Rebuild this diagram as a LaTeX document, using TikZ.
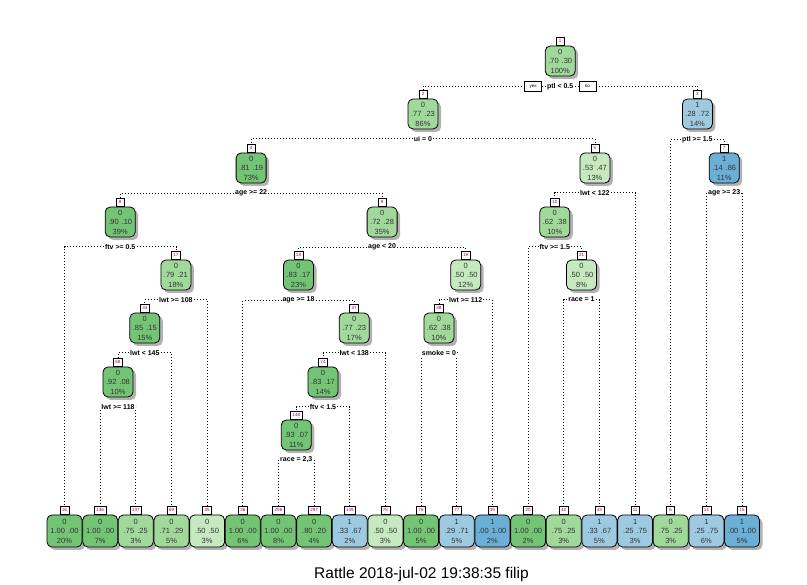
\documentclass[tikz,border=0pt]{standalone}
\usepackage{fontspec}
\setmainfont{Liberation Sans}
\usetikzlibrary{positioning,shadows,backgrounds}

\definecolor{grDark}{HTML}{74C476}
\definecolor{grMid}{HTML}{A1D99B}
\definecolor{grLight}{HTML}{C7E9C0}
\definecolor{blLight}{HTML}{9ECAE1}
\definecolor{blDark}{HTML}{6BAED6}

\newcommand{\probs}[2]{#1\hspace{3pt}#2}

\begin{document}
\begin{tikzpicture}[x=1pt, y=-1pt,
    box/.style={draw, rounded corners=5pt, line width=0.8pt, minimum width=30pt,
                minimum height=30pt, inner sep=0pt, align=center, text=black!80,
                font=\fontsize{7.5}{9.5}\selectfont,
                drop shadow={shadow xshift=3pt, shadow yshift=-3pt, fill=black, opacity=0.3}},
    leafbox/.style={box, minimum width=35pt, minimum height=32pt},
    tagbox/.style={draw, fill=white, line width=0.5pt, inner xsep=2pt, inner ysep=0pt,
                   minimum width=8pt, minimum height=8pt, text=violet!80!red,
                   font=\fontsize{4.5}{4.5}\selectfont},
    splitlbl/.style={fill=white, inner sep=1pt, font=\bfseries\fontsize{7}{8}\selectfont},
    yesno/.style={draw, fill=white, line width=0.5pt, minimum width=17pt, minimum height=10pt,
                  inner sep=0pt, font=\fontsize{4.5}{4.5}\selectfont},
    conn/.style={line width=0.8pt, dash pattern=on 0.8pt off 2.2pt}]

    \useasboundingbox (0,0) rectangle (807,585);

    % internal nodes
    \node[box, fill=grMid]   (n1)   at (560.2,61)  {0\\\probs{.70}{.30}\\100\%};
    \node[box, fill=grMid]   (n2)   at (423.0,114) {0\\\probs{.77}{.23}\\86\%};
    \node[box, fill=blLight] (n3)   at (697.4,114) {1\\\probs{.28}{.72}\\14\%};
    \node[box, fill=grDark]  (n4)   at (251.1,168) {0\\\probs{.81}{.19}\\73\%};
    \node[box, fill=grLight] (n5)   at (594.9,168) {0\\\probs{.53}{.47}\\13\%};
    \node[box, fill=blDark]  (n7)   at (724.2,168) {1\\\probs{.14}{.86}\\11\%};
    \node[box, fill=grDark]  (n8)   at (120.2,222) {0\\\probs{.90}{.10}\\39\%};
    \node[box, fill=grMid]   (n9)   at (382.1,222) {0\\\probs{.72}{.28}\\35\%};
    \node[box, fill=grMid]   (n10)  at (554.8,222) {0\\\probs{.62}{.38}\\10\%};
    \node[box, fill=grMid]   (n17)  at (175.9,275) {0\\\probs{.79}{.21}\\18\%};
    \node[box, fill=grDark]  (n18)  at (298.5,275) {0\\\probs{.83}{.17}\\23\%};
    \node[box, fill=grLight] (n19)  at (465.7,275) {0\\\probs{.50}{.50}\\12\%};
    \node[box, fill=grLight] (n21)  at (581.5,275) {0\\\probs{.50}{.50}\\8\%};
    \node[box, fill=grDark]  (n34)  at (144.8,328) {0\\\probs{.85}{.15}\\15\%};
    \node[box, fill=grMid]   (n37)  at (354.2,328) {0\\\probs{.77}{.23}\\17\%};
    \node[box, fill=grMid]   (n38)  at (438.9,328) {0\\\probs{.62}{.38}\\10\%};
    \node[box, fill=grDark]  (n68)  at (118.0,382) {0\\\probs{.92}{.08}\\10\%};
    \node[box, fill=grDark]  (n74)  at (323.0,382) {0\\\probs{.83}{.17}\\14\%};
    \node[box, fill=grDark]  (n148) at (296.3,435) {0\\\probs{.93}{.07}\\11\%};

    % leaves
    \node[leafbox, fill=grDark]  (n16)  at (64.5,531)  {0\\\probs{1.00}{.00}\\20\%};
    \node[leafbox, fill=grDark]  (n136) at (100.2,531) {0\\\probs{1.00}{.00}\\7\%};
    \node[leafbox, fill=grMid]   (n137) at (135.8,531) {0\\\probs{.75}{.25}\\3\%};
    \node[leafbox, fill=grMid]   (n69)  at (171.5,531) {0\\\probs{.71}{.29}\\5\%};
    \node[leafbox, fill=grLight] (n35)  at (207.1,531) {0\\\probs{.50}{.50}\\3\%};
    \node[leafbox, fill=grDark]  (n36)  at (242.8,531) {0\\\probs{1.00}{.00}\\6\%};
    \node[leafbox, fill=grDark]  (n296) at (278.5,531) {0\\\probs{1.00}{.00}\\8\%};
    \node[leafbox, fill=grDark]  (n297) at (314.1,531) {0\\\probs{.80}{.20}\\4\%};
    \node[leafbox, fill=blLight] (n149) at (349.8,531) {1\\\probs{.33}{.67}\\2\%};
    \node[leafbox, fill=grLight] (n75)  at (385.4,531) {0\\\probs{.50}{.50}\\3\%};
    \node[leafbox, fill=grDark]  (n76)  at (421.1,531) {0\\\probs{1.00}{.00}\\5\%};
    \node[leafbox, fill=blLight] (n77)  at (456.8,531) {1\\\probs{.29}{.71}\\5\%};
    \node[leafbox, fill=blDark]  (n39)  at (492.4,531) {1\\\probs{.00}{1.00}\\2\%};
    \node[leafbox, fill=grDark]  (n20)  at (528.1,531) {0\\\probs{1.00}{.00}\\2\%};
    \node[leafbox, fill=grMid]   (n42)  at (563.7,531) {0\\\probs{.75}{.25}\\3\%};
    \node[leafbox, fill=blLight] (n43)  at (599.4,531) {1\\\probs{.33}{.67}\\5\%};
    \node[leafbox, fill=blLight] (n11)  at (635.1,531) {1\\\probs{.25}{.75}\\3\%};
    \node[leafbox, fill=grMid]   (n6)   at (670.7,531) {0\\\probs{.75}{.25}\\3\%};
    \node[leafbox, fill=blLight] (n14)  at (706.4,531) {1\\\probs{.25}{.75}\\6\%};
    \node[leafbox, fill=blDark]  (n15)  at (742.0,531) {1\\\probs{.00}{1.00}\\5\%};

    % node numbers
    \foreach \n in {1,2,3,4,5,6,7,8,9,10,11,14,15,16,17,18,19,20,21,34,35,36,37,38,39,
                    42,43,68,69,74,75,76,77,136,137,148,149,296,297}
        \node[tagbox, above=0pt of n\n] (t\n) {\n};

    % split labels
    \node[splitlbl, below=5.5pt of n1]   (s1)   {ptl < 0.5};
    \node[splitlbl, below=5.5pt of n2]   (s2)   {ui = 0};
    \node[splitlbl, below=5.5pt of n3]   (s3)   {ptl >= 1.5};
    \node[splitlbl, below=5.5pt of n4]   (s4)   {age >= 22};
    \node[splitlbl, below=5.5pt of n5]   (s5)   {lwt < 122};
    \node[splitlbl, below=5.5pt of n7]   (s7)   {age >= 23};
    \node[splitlbl, below=5.5pt of n8]   (s8)   {ftv >= 0.5};
    \node[splitlbl, below=5.5pt of n9]   (s9)   {age < 20};
    \node[splitlbl, below=5.5pt of n10]  (s10)  {ftv >= 1.5};
    \node[splitlbl, below=5.5pt of n17]  (s17)  {lwt >= 108};
    \node[splitlbl, below=5.5pt of n18]  (s18)  {age >= 18};
    \node[splitlbl, below=5.5pt of n19]  (s19)  {lwt >= 112};
    \node[splitlbl, below=5.5pt of n21]  (s21)  {race = 1};
    \node[splitlbl, below=5.5pt of n34]  (s34)  {lwt < 145};
    \node[splitlbl, below=5.5pt of n37]  (s37)  {lwt < 138};
    \node[splitlbl, below=5.5pt of n38]  (s38)  {smoke = 0};
    \node[splitlbl, below=5.5pt of n68]  (s68)  {lwt >= 118};
    \node[splitlbl, below=5.5pt of n74]  (s74)  {ftv < 1.5};
    \node[splitlbl, below=5.5pt of n148] (s148) {race = 2,3};

    \node[yesno, left=4pt of s1]  (yes) {yes};
    \node[yesno, right=4pt of s1] (no)  {no};

    % branches
    \begin{scope}[on background layer]
        \foreach \p/\l/\r in {1/2/3, 2/4/5, 3/6/7, 4/8/9, 5/10/11, 7/14/15, 8/16/17,
                              9/18/19, 10/20/21, 17/34/35, 18/36/37, 19/38/39, 21/42/43,
                              34/68/69, 37/74/75, 38/76/77, 68/136/137, 74/148/149,
                              148/296/297}
            \draw[conn] (s\p) -| (t\l.north) (s\p) -| (t\r.north);
    \end{scope}

    \node[font=\fontsize{15.5}{18}\selectfont] (caption) at (421.5,574)
        {Rattle 2018-jul-02 19:38:35 filip};
\end{tikzpicture}
\end{document}
